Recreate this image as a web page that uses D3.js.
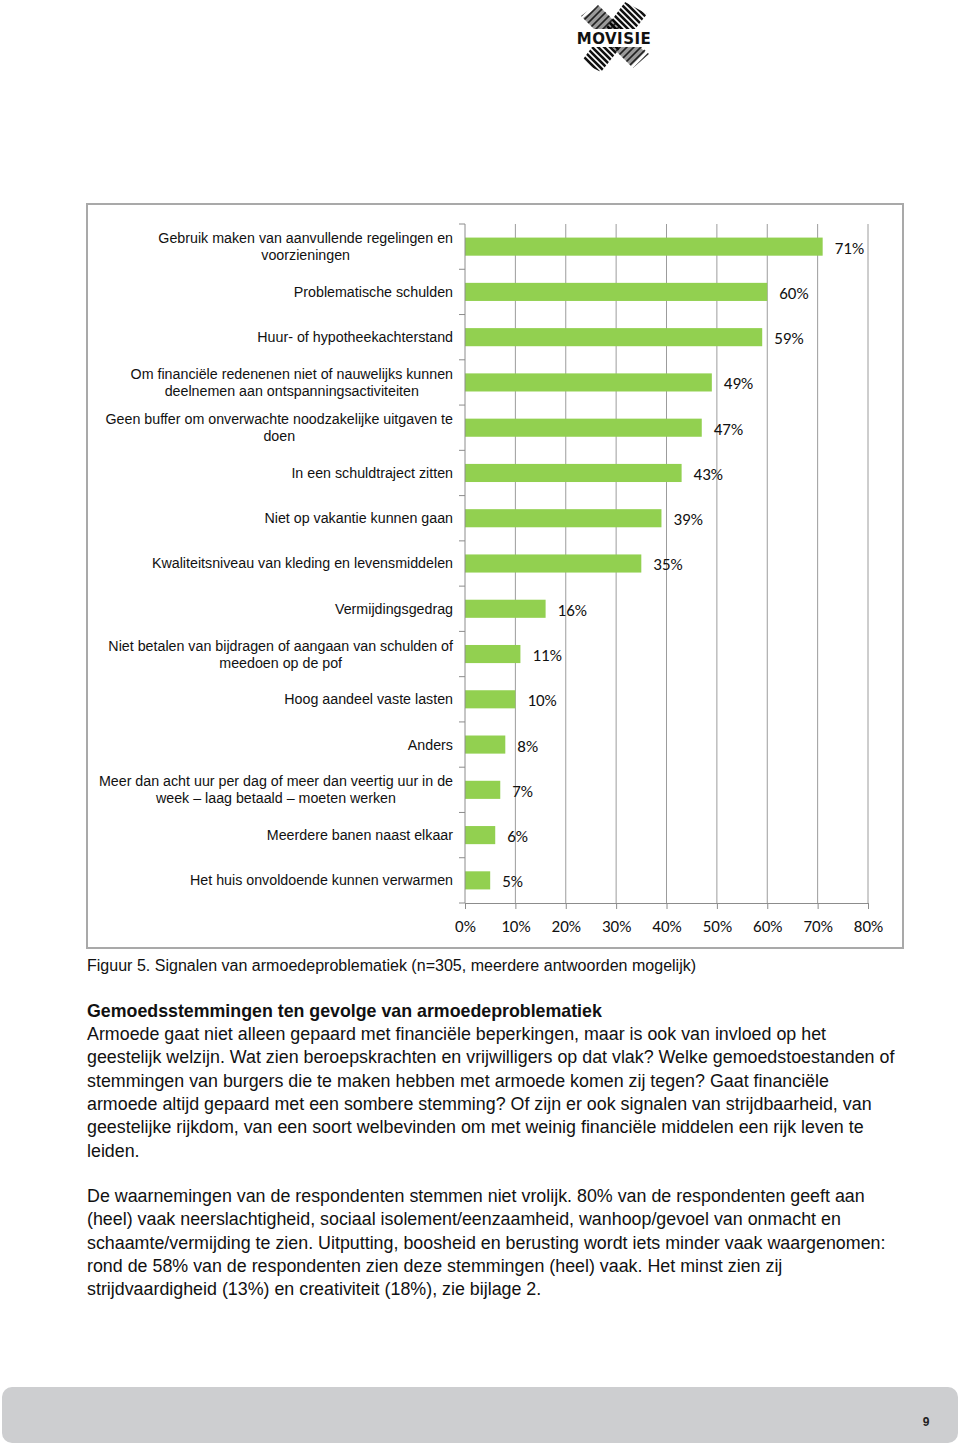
<!DOCTYPE html>
<html><head><meta charset="utf-8">
<script src="https://cdn.jsdelivr.net/npm/d3@7"></script>
<style>
html,body{margin:0;padding:0;background:#fff;}
svg{display:block;}
</style></head>
<body>
<svg id="page" width="960" height="1447"></svg>
<script>
// ---- data ----
const categories = [
  ["Gebruik maken van aanvullende regelingen en", "voorzieningen"],
  ["Problematische schulden"],
  ["Huur- of hypotheekachterstand"],
  ["Om financiële redenenen niet of nauwelijks kunnen", "deelnemen aan ontspanningsactiviteiten"],
  ["Geen buffer om onverwachte noodzakelijke uitgaven te", "doen"],
  ["In een schuldtraject zitten"],
  ["Niet op vakantie kunnen gaan"],
  ["Kwaliteitsniveau van kleding en levensmiddelen"],
  ["Vermijdingsgedrag"],
  ["Niet betalen van bijdragen of aangaan van schulden of", "meedoen op de pof"],
  ["Hoog aandeel vaste lasten"],
  ["Anders"],
  ["Meer dan acht uur per dag of meer dan veertig uur in de", "week – laag betaald – moeten werken"],
  ["Meerdere banen naast elkaar"],
  ["Het huis onvoldoende kunnen verwarmen"]
];
const values = [71, 60, 59, 49, 47, 43, 39, 35, 16, 11, 10, 8, 7, 6, 5];
const xTicks = [0, 10, 20, 30, 40, 50, 60, 70, 80];
const caption = "Figuur 5. Signalen van armoedeproblematiek (n=305, meerdere antwoorden mogelijk)";
const heading = "Gemoedsstemmingen ten gevolge van armoedeproblematiek";
const para1 = [
  "Armoede gaat niet alleen gepaard met financiële beperkingen, maar is ook van invloed op het",
  "geestelijk welzijn. Wat zien beroepskrachten en vrijwilligers op dat vlak? Welke gemoedstoestanden of",
  "stemmingen van burgers die te maken hebben met armoede komen zij tegen? Gaat financiële",
  "armoede altijd gepaard met een sombere stemming? Of zijn er ook signalen van strijdbaarheid, van",
  "geestelijke rijkdom, van een soort welbevinden om met weinig financiële middelen een rijk leven te",
  "leiden."
];
const para2 = [
  "De waarnemingen van de respondenten stemmen niet vrolijk. 80% van de respondenten geeft aan",
  "(heel) vaak neerslachtigheid, sociaal isolement/eenzaamheid, wanhoop/gevoel van onmacht en",
  "schaamte/vermijding te zien. Uitputting, boosheid en berusting wordt iets minder vaak waargenomen:",
  "rond de 58% van de respondenten zien deze stemmingen (heel) vaak. Het minst zien zij",
  "strijdvaardigheid (13%) en creativiteit (18%), zie bijlage 2."
];
const pageNumber = "9";

// ---- drawing ----
const svg = d3.select("#page");
const bodyFont = "'Liberation Sans', Arial, sans-serif";
const numFont = "Carlito, 'Open Sans', Lato, sans-serif";

// Logo
const logo = svg.append("g").attr("transform", "translate(577,2)");
const defs = svg.append("defs");
defs.append("clipPath").attr("id", "armA").append("path")
  .attr("d", "M48,0 L70,12 L24,70 L4,60 Z");
defs.append("clipPath").attr("id", "armB").append("path")
  .attr("d", "M4,14 L20,2 L72,52 L56,66 Z");
logo.append("path").attr("d", "M6,16 L22,4 L68,50 L54,64 Z").attr("fill", "#9a9a9a");
const hatchA = logo.append("g").attr("clip-path", "url(#armA)");
for (let i = -8; i < 18; i++) {
  hatchA.append("line").attr("x1", i * 6).attr("y1", 0).attr("x2", i * 6 + 70).attr("y2", 70)
    .attr("stroke", "#111").attr("stroke-width", 2.6);
}
const hatchB = logo.append("g").attr("clip-path", "url(#armB)");
for (let i = -8; i < 18; i++) {
  hatchB.append("line").attr("x1", i * 7 - 20).attr("y1", 80).attr("x2", i * 7 + 60).attr("y2", 0)
    .attr("stroke", "#111").attr("stroke-width", 1.6).attr("opacity", 0.85);
}
logo.append("rect").attr("x", -1).attr("y", 27).attr("width", 76).attr("height", 18).attr("fill", "#fff");
logo.append("text").attr("x", 37).attr("y", 42).attr("text-anchor", "middle")
  .attr("font-family", "'DejaVu Sans', sans-serif").attr("font-weight", "bold")
  .attr("font-size", 15).attr("letter-spacing", 0.5).attr("fill", "#111").text("MOVISIE");

// Chart frame
svg.append("rect").attr("x", 87).attr("y", 204).attr("width", 816).attr("height", 744)
  .attr("fill", "#fff").attr("stroke", "#a9a9a9").attr("stroke-width", 2);

const x0 = 465, x1 = 868, yTop = 224, yBot = 903;
const x = d3.scaleLinear().domain([0, 80]).range([x0, x1]);
const y = d3.scaleBand().domain(d3.range(categories.length)).range([yTop, yBot]).paddingInner(0.6).paddingOuter(0.3);
const yb = d3.scaleBand().domain(d3.range(categories.length)).range([yTop, yBot]);

// gridlines
svg.append("g").selectAll("line").data(xTicks.filter(d => d > 0)).join("line")
  .attr("x1", d => x(d)).attr("x2", d => x(d)).attr("y1", yTop).attr("y2", yBot)
  .attr("stroke", "#9c9c9c").attr("stroke-width", 1);

// bars
svg.append("g").selectAll("rect").data(values).join("rect")
  .attr("x", x0).attr("y", (d, i) => y(i)).attr("width", d => x(d) - x0).attr("height", y.bandwidth())
  .attr("fill", "#92d050");

// x axis
const xAxis = d3.axisBottom(x).tickValues(xTicks).tickFormat(d => d + "%").tickSize(6).tickPadding(8);
const gx = svg.append("g").attr("transform", `translate(0,${yBot})`).call(xAxis);
gx.select(".domain").attr("stroke", "#8c8c8c");
gx.selectAll(".tick line").attr("stroke", "#8c8c8c");
gx.selectAll(".tick text").attr("font-family", numFont).attr("font-size", 17).attr("fill", "#111").attr("dy", "0.9em");

// y axis line + ticks at band boundaries
svg.append("line").attr("x1", x0).attr("x2", x0).attr("y1", yTop).attr("y2", yBot).attr("stroke", "#8c8c8c");
svg.append("g").selectAll("line").data(d3.range(categories.length + 1)).join("line")
  .attr("x1", x0 - 6).attr("x2", x0).attr("y1", i => yTop + i * yb.step()).attr("y2", i => yTop + i * yb.step())
  .attr("stroke", "#8c8c8c");

// value labels
svg.append("g").selectAll("text").data(values).join("text")
  .attr("x", d => x(d) + 12).attr("y", (d, i) => y(i) + y.bandwidth() / 2 + 1)
  .attr("dy", "0.35em").attr("font-family", numFont).attr("font-size", 17).attr("fill", "#111")
  .text(d => d + "%");

// category labels
const labelRight = 453;
const lg = svg.append("g");
categories.forEach((lines, i) => {
  const cy = y(i) + y.bandwidth() / 2;
  const lh = 17;
  const g = lg.append("g");
  const texts = lines.map((t, k) => g.append("text")
    .attr("font-family", bodyFont).attr("font-size", 14.25).attr("fill", "#111")
    .attr("y", cy + (k - (lines.length - 1) / 2) * lh).attr("dy", "0.35em").text(t));
  const w = d3.max(texts, t => t.node().getComputedTextLength());
  texts.forEach(t => t.attr("x", labelRight - w / 2).attr("text-anchor", "middle"));
});

// caption & text
svg.append("text").attr("x", 87).attr("y", 971).attr("font-family", bodyFont).attr("font-size", 16.05)
  .attr("fill", "#111").text(caption);
svg.append("text").attr("x", 87).attr("y", 1017).attr("font-family", bodyFont).attr("font-size", 17.8)
  .attr("font-weight", "bold").attr("fill", "#111").text(heading);
const lineH = 23.3;
para1.forEach((t, k) => svg.append("text").attr("x", 87).attr("y", 1040 + k * lineH)
  .attr("font-family", bodyFont).attr("font-size", 17.85).attr("fill", "#111").text(t));
para2.forEach((t, k) => svg.append("text").attr("x", 87).attr("y", 1202 + k * lineH)
  .attr("font-family", bodyFont).attr("font-size", 17.85).attr("fill", "#111").text(t));

// footer
svg.append("rect").attr("x", 2).attr("y", 1387).attr("width", 956).attr("height", 56).attr("rx", 10)
  .attr("fill", "#cdced0");
svg.append("text").attr("x", 926).attr("y", 1426).attr("text-anchor", "middle").attr("font-family", bodyFont)
  .attr("font-size", 12).attr("font-weight", "bold").attr("fill", "#222").text(pageNumber);
</script>
</body></html>
